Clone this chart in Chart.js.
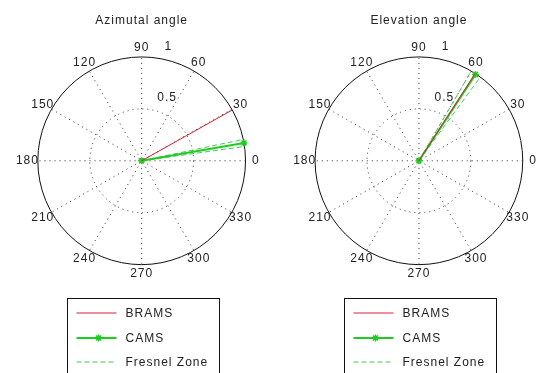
<!DOCTYPE html>
<html>
<head>
<meta charset="utf-8">
<script src="https://cdn.jsdelivr.net/npm/chart.js@4/dist/chart.umd.min.js"></script>
<style>
  html, body { margin: 0; padding: 0; background: #fff; overflow: hidden; }
  #wrap { position: relative; width: 541px; height: 373px; background: #fff; }
  #wrap canvas { position: absolute; left: 0; top: 0; }
</style>
</head>
<body>
<div id="wrap">
  <canvas id="azimuth" width="541" height="373"></canvas>
  <canvas id="elevation" width="541" height="373"></canvas>
</div>
<script>
// Panel titles and legend entries
const panelTitles = ['Azimutal angle', 'Elevation angle'];
const seriesNames = ['BRAMS', 'CAMS', 'Fresnel Zone'];

// Direction of each ray, in degrees (one value per panel)
const bramsAngle   = [29.5, 57.5];
const camsAngle    = [10, 57];
const fresnelLower = [8, 54];
const fresnelUpper = [12, 60];
// Ray length (normalised radius)
const rayLength = [1, 1];

// Polar grid ticks
const angleTicks  = [0, 30, 60, 90, 120, 150, 180, 210, 240, 270, 300, 330];
const radialTicks = [0.5, 1];

const W = 541, H = 373;
const frames = [
  { cx: 139, cy: 160, R: 106 },
  { cx: 422, cy: 160, R: 106 }
];

const RED = 'rgb(214,32,58)';
const GREEN = 'rgb(30,205,30)';
const FRESNEL = 'rgb(70,200,90)';
const FONT = '12px "Liberation Sans", Arial, sans-serif';
const rMax = radialTicks[radialTicks.length - 1];

function polar(r, deg) {
  const t = deg * Math.PI / 180;
  return { x: r * Math.cos(t), y: r * Math.sin(t) };
}
function ray(deg, len) {
  return [polar(0, deg), polar(len, deg)];
}

// Draws the polar frame (circle, rings, spokes, labels), title and boxed legend
const polarFrame = {
  id: 'polarFrame',
  beforeDatasetsDraw(chart, args, opts) {
    const { ctx } = chart;
    const sx = chart.scales.x, sy = chart.scales.y;
    const P = (r, deg) => {
      const p = polar(r, deg);
      return [sx.getPixelForValue(p.x), sy.getPixelForValue(p.y)];
    };
    const cx = sx.getPixelForValue(0), cy = sy.getPixelForValue(0);
    const R = sx.getPixelForValue(rMax) - cx;
    ctx.save();
    // dotted rings
    ctx.strokeStyle = '#333';
    ctx.lineWidth = 1;
    ctx.setLineDash([1, 4]);
    radialTicks.slice(0, -1).forEach(r => {
      ctx.beginPath();
      ctx.arc(cx, cy, r * R, 0, Math.PI * 2);
      ctx.stroke();
    });
    // dotted spokes
    angleTicks.filter(a => a < 180).forEach(a => {
      const [x1, y1] = P(rMax, a), [x2, y2] = P(rMax, a + 180);
      ctx.beginPath();
      ctx.moveTo(x1, y1);
      ctx.lineTo(x2, y2);
      ctx.stroke();
    });
    // solid outer circle
    ctx.setLineDash([]);
    ctx.strokeStyle = '#111';
    ctx.beginPath();
    ctx.arc(cx, cy, R, 0, Math.PI * 2);
    ctx.stroke();
    // text
    ctx.fillStyle = '#222';
    ctx.font = FONT;
    if ('letterSpacing' in ctx) ctx.letterSpacing = '1px';
    ctx.textAlign = 'center';
    ctx.textBaseline = 'middle';
    angleTicks.forEach(a => {
      const [x, y] = P(1.1 * rMax, a);
      ctx.fillText(String(a), x, y);
    });
    const rinc = radialTicks[0];
    ctx.textAlign = 'left';
    ctx.textBaseline = 'alphabetic';
    radialTicks.forEach(r => {
      const [x, y] = P(r + rinc / 20, 82);
      ctx.fillText(String(r), x + 8, y - 6);
    });
    // title
    ctx.textAlign = 'center';
    ctx.fillText(opts.title, cx, 24);
    ctx.restore();
  },
  afterDraw(chart, args, opts) {
    const { ctx } = chart;
    const cx = chart.scales.x.getPixelForValue(0);
    const left = Math.round(cx) - 74.5, right = Math.round(cx) + 77.5, top = 298.5;
    ctx.save();
    ctx.fillStyle = '#fff';
    ctx.fillRect(left, top, right - left, H - top + 10);
    ctx.strokeStyle = '#111';
    ctx.lineWidth = 1;
    ctx.strokeRect(left, top, right - left, H - top + 10);
    const rows = [313, 338, 362];
    ctx.font = FONT;
    if ('letterSpacing' in ctx) ctx.letterSpacing = '1px';
    seriesNames.forEach((name, k) => {
      const ds = chart.data.datasets[k];
      const y = rows[k];
      const x1 = left + 9, x2 = left + 49;
      ctx.save();
      ctx.strokeStyle = ds.borderColor;
      ctx.lineWidth = ds.borderWidth;
      ctx.setLineDash(ds.borderDash || []);
      ctx.beginPath();
      ctx.moveTo(x1, y);
      ctx.lineTo(x2, y);
      ctx.stroke();
      ctx.restore();
      if (ds.pointRadius > 0 && Chart.helpers && Chart.helpers.drawPoint) {
        ctx.save();
        ctx.strokeStyle = ds.pointBorderColor;
        ctx.fillStyle = ds.pointBackgroundColor;
        ctx.lineWidth = ds.pointBorderWidth;
        Chart.helpers.drawPoint(ctx, {
          pointStyle: ds.pointStyle, radius: ds.pointRadius,
          rotation: 0, borderWidth: ds.pointBorderWidth
        }, (x1 + x2) / 2 + 2, y);
        ctx.restore();
      }
      ctx.fillStyle = '#222';
      ctx.textAlign = 'left';
      ctx.textBaseline = 'middle';
      ctx.fillText(name, left + 58, y + 1);
    });
    ctx.restore();
  }
};

function makePanel(canvasId, i) {
  const f = frames[i];
  const len = rayLength[i];
  const datasets = [
    { label: seriesNames[0], data: ray(bramsAngle[i], len), borderColor: RED,
      borderWidth: 1, pointRadius: 0 },
    { label: seriesNames[1], data: ray(camsAngle[i], len), borderColor: GREEN,
      borderWidth: 2, pointStyle: 'star', pointRadius: 3.5, pointBorderWidth: 1.5,
      pointBorderColor: GREEN, pointBackgroundColor: GREEN },
    { label: seriesNames[2], data: ray(fresnelLower[i], len), borderColor: FRESNEL,
      borderWidth: 1, borderDash: [5, 3], pointRadius: 0 },
    { label: seriesNames[2], data: ray(fresnelUpper[i], len), borderColor: FRESNEL,
      borderWidth: 1, borderDash: [5, 3], pointRadius: 0 }
  ];
  datasets.forEach(d => { d.showLine = true; d.fill = false; d.tension = 0; });
  return new Chart(document.getElementById(canvasId), {
    type: 'scatter',
    data: { datasets },
    options: {
      responsive: false,
      animation: false,
      devicePixelRatio: 1,
      layout: { padding: 0 },
      scales: {
        x: { type: 'linear', display: false, min: -f.cx / f.R, max: (W - f.cx) / f.R },
        y: { type: 'linear', display: false, min: -(H - f.cy) / f.R, max: f.cy / f.R }
      },
      plugins: {
        legend: { display: false },
        tooltip: { enabled: false },
        polarFrame: { title: panelTitles[i] }
      }
    },
    plugins: [polarFrame]
  });
}

makePanel('azimuth', 0);
makePanel('elevation', 1);
</script>
</body>
</html>
